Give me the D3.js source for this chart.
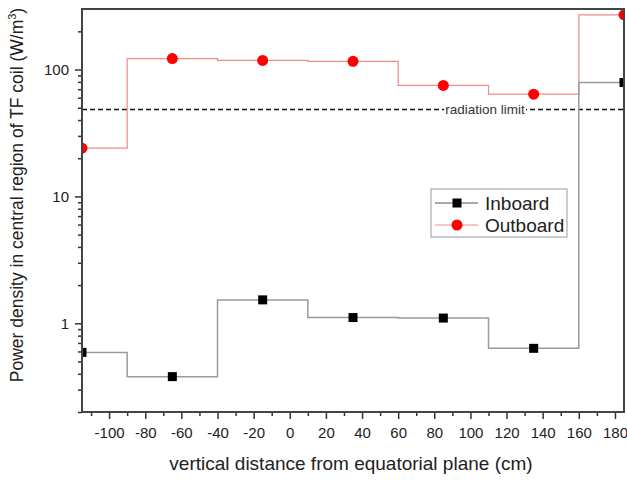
<!DOCTYPE html>
<html>
<head>
<meta charset="utf-8">
<script src="https://cdn.jsdelivr.net/npm/d3@7"></script>
<style>
  body { margin: 0; background: #fff; }
  text { font-family: "Liberation Sans", Arial, sans-serif; }
</style>
</head>
<body>
<svg id="chart"></svg>
<script>
// bin centres (cm) and the power density read for each bin
var positions = [-115, -65, -15, 35, 85, 135, 185];
var inboard = [0.59, 0.38, 1.53, 1.11, 1.10, 0.635, 79];
var outboard = [24, 122, 118, 116, 75, 64, 270];
var radiationLimit = 48.5;

var xMajor = [-100, -80, -60, -40, -20, 0, 20, 40, 60, 80, 100, 120, 140, 160, 180];
var xMinor = [-110, -90, -70, -50, -30, -10, 10, 30, 50, 70, 90, 110, 130, 150, 170];
var yMajor = [1, 10, 100];
var yMinor = [0.2, 0.3, 0.4, 0.5, 0.6, 0.7, 0.8, 0.9, 2, 3, 4, 5, 6, 7, 8, 9,
              20, 30, 40, 50, 60, 70, 80, 90, 200];

function chart() {
  var width = 627;
  var height = 481;
  var left = 82, right = 624, top = 9, bottom = 412;

  var svg = d3.select("#chart").attr("width", width).attr("height", height);

  var x = d3.scaleLinear().domain([-115, 185]).range([left, right]);
  var y = d3.scaleLog().domain([0.2, 300]).range([bottom, top]);
  var plain = function(d) { return String(d); };

  svg.append("clipPath").attr("id", "plot")
    .append("rect")
    .attr("x", left).attr("y", top)
    .attr("width", right - left).attr("height", bottom - top);

  // axes: minor and major ticks drawn separately
  var xMin = svg.append("g").attr("transform", "translate(0," + bottom + ")")
    .call(d3.axisBottom(x).tickValues(xMinor).tickSize(4).tickFormat(""));
  var xMaj = svg.append("g").attr("transform", "translate(0," + bottom + ")")
    .call(d3.axisBottom(x).tickValues(xMajor).tickSize(7).tickPadding(8).tickFormat(plain));
  var yMin = svg.append("g").attr("transform", "translate(" + left + ",0)")
    .call(d3.axisLeft(y).tickValues(yMinor).tickSize(4).tickFormat(""));
  var yMaj = svg.append("g").attr("transform", "translate(" + left + ",0)")
    .call(d3.axisLeft(y).tickValues(yMajor).tickSize(7).tickPadding(6).tickFormat(plain));

  [xMin, xMaj, yMin, yMaj].forEach(function(g) {
    g.select(".domain").remove();
    g.selectAll(".tick line").attr("stroke", "#333").attr("stroke-width", 1.5);
    g.selectAll(".tick text").attr("fill", "#222").style("font-size", "15px")
      .style("font-family", "'Liberation Sans', Arial, sans-serif");
  });

  // radiation limit
  var ry = y(radiationLimit);
  svg.append("line")
    .attr("x1", left).attr("x2", right).attr("y1", ry).attr("y2", ry)
    .attr("stroke", "#111").attr("stroke-width", 1.5)
    .attr("stroke-dasharray", "5,3");
  var label = svg.append("text")
    .attr("x", 485).attr("y", ry + 4.5)
    .attr("text-anchor", "middle")
    .attr("fill", "#333")
    .style("font-size", "13.5px")
    .text("radiation limit");
  var bb = label.node().getBBox();
  svg.insert("rect", function() { return label.node(); })
    .attr("x", bb.x - 1).attr("y", ry - 2)
    .attr("width", bb.width + 2).attr("height", 4)
    .attr("fill", "#fff");

  var plot = svg.append("g").attr("clip-path", "url(#plot)");

  var line = function(values) {
    return d3.line()
      .curve(d3.curveStep)
      .x(function(d, i) { return x(positions[i]); })
      .y(function(d) { return y(d); })(values);
  };

  plot.append("path")
    .attr("d", line(outboard))
    .attr("fill", "none").attr("stroke", "#f28a8a").attr("stroke-width", 1.2);
  plot.append("path")
    .attr("d", line(inboard))
    .attr("fill", "none").attr("stroke", "#9a9a9a").attr("stroke-width", 1.5);

  plot.selectAll("circle")
    .data(outboard)
   .enter().append("circle")
    .attr("cx", function(d, i) { return x(positions[i]); })
    .attr("cy", function(d) { return y(d); })
    .attr("r", 5.5)
    .attr("fill", "#ff0000");

  plot.selectAll("rect.sq")
    .data(inboard)
   .enter().append("rect")
    .attr("class", "sq")
    .attr("x", function(d, i) { return x(positions[i]) - 4.5; })
    .attr("y", function(d) { return y(d) - 4.5; })
    .attr("width", 9).attr("height", 9)
    .attr("fill", "#000");

  // frame
  svg.append("rect")
    .attr("x", left).attr("y", top)
    .attr("width", right - left).attr("height", bottom - top)
    .attr("fill", "none").attr("stroke", "#444").attr("stroke-width", 2);

  // legend
  var legend = svg.append("g").attr("transform", "translate(431,189)");
  legend.append("rect")
    .attr("width", 136).attr("height", 48)
    .attr("fill", "#fff").attr("stroke", "#999").attr("stroke-width", 1);
  var rows = [
    {name: "Inboard", color: "#555", mark: "square", y: 14},
    {name: "Outboard", color: "#f28a8a", mark: "circle", y: 36}
  ];
  rows.forEach(function(r) {
    legend.append("line")
      .attr("x1", 4).attr("x2", 47).attr("y1", r.y).attr("y2", r.y)
      .attr("stroke", r.color).attr("stroke-width", 1.2);
    if (r.mark == "square") {
      legend.append("rect")
        .attr("x", 26 - 4.5).attr("y", r.y - 4.5)
        .attr("width", 9).attr("height", 9).attr("fill", "#000");
    } else {
      legend.append("circle")
        .attr("cx", 26).attr("cy", r.y).attr("r", 5.5).attr("fill", "#ff0000");
    }
    legend.append("text")
      .attr("x", 54).attr("y", r.y + 7)
      .attr("fill", "#222")
      .style("font-size", "19px")
      .text(r.name);
  });

  // axis titles
  svg.append("text")
    .attr("x", 351).attr("y", 470)
    .attr("text-anchor", "middle")
    .attr("fill", "#222")
    .style("font-size", "19px")
    .text("vertical distance from equatorial plane (cm)");

  var yt = svg.append("text")
    .attr("transform", "translate(23,195) rotate(-90)")
    .attr("text-anchor", "middle")
    .attr("fill", "#222")
    .style("font-size", "17.5px");
  yt.append("tspan").text("Power density in central region of TF coil (W/m");
  yt.append("tspan").attr("dy", -7).style("font-size", "11px").text("3");
  yt.append("tspan").attr("dy", 7).text(")");
}

chart();
</script>
</body>
</html>
